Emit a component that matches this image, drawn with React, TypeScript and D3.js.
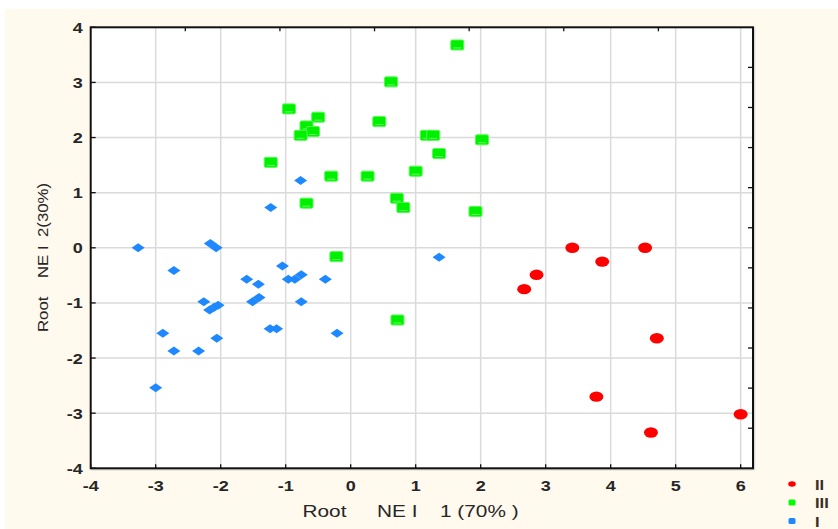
import React from "react";
import * as d3 from "d3";

const groupI: [number, number][] = [
  [-3.27, 0.0], [-2.72, -0.41], [-2.16, 0.08], [-2.07, 0.0], [-1.23, 0.73],
  [-0.77, 1.22], [-1.05, -0.33], [-1.6, -0.57], [-1.42, -0.66], [-0.96, -0.57],
  [-0.86, -0.57], [-0.76, -0.49], [-0.39, -0.57], [-2.26, -0.98], [-2.17, -1.13],
  [-2.1, -1.08], [-2.04, -1.04], [-1.51, -0.98], [-1.41, -0.9], [-0.76, -0.98],
  [-2.89, -1.55], [-2.06, -1.64], [-1.24, -1.47], [-1.14, -1.47], [-0.21, -1.55],
  [-2.72, -1.87], [-2.34, -1.87], [-3.0, -2.54], [1.36, -0.17],
];
const groupIII: [number, number][] = [
  [1.64, 3.68], [0.62, 3.01], [-0.95, 2.52], [-0.5, 2.37], [-0.68, 2.21],
  [-0.58, 2.11], [-0.77, 2.04], [0.44, 2.29], [1.17, 2.04], [1.27, 2.04],
  [2.02, 1.96], [1.36, 1.71], [-1.23, 1.55], [-0.3, 1.3], [0.26, 1.3],
  [1.0, 1.39], [-0.68, 0.81], [0.71, 0.9], [0.81, 0.73], [1.92, 0.66],
  [-0.22, -0.16], [0.72, -1.31],
];
const groupII: [number, number][] = [
  [3.41, 0.0], [4.53, 0.0], [3.87, -0.25], [2.86, -0.49], [2.67, -0.75],
  [4.71, -1.64], [3.78, -2.7], [6.0, -3.02], [4.62, -3.35],
];
const xTicks = [-4, -3, -2, -1, 0, 1, 2, 3, 4, 5, 6];
const yTicks = [-4, -3, -2, -1, 0, 1, 2, 3, 4];
const topTicks = [1, 2, 3, 4, 5, 6];
const rightTicks = [1, 2, 3, 4, 5, 6, 7, 8, 9, 10];
const xTitleParts = ["Root", "NE I", "1 (70% )"];
const yTitleParts = ["Root", "NE I", "2(30%)"];
const legendItems = [
  { label: "II", color: "#FF0000", shape: "circle" },
  { label: "III", color: "#00FF00", shape: "square" },
  { label: "I", color: "#1E88FF", shape: "square" },
];

const L = 90.7, R = 753, T = 27.3, B = 468.3;
const x = d3.scaleLinear().domain([-4, 6.19]).range([L, R]);
const y = d3.scaleLinear().domain([-4, 4]).range([B, T]);
const xTop = d3.scaleLinear().domain([0, 7]).range([L, R]);
const yRight = d3.scaleLinear().domain([0, 11]).range([T, B]);

const font = "'Liberation Sans', Arial, sans-serif";
const textCol = "#262626";
const fmt = (t: number) => (t < 0 ? "-" + Math.abs(t) : String(t));

function SText(props: {
  x: number; y: number; anchor?: string; sx?: number; size: number; weight?: string;
  fill?: string; rotate?: number; children: React.ReactNode;
}) {
  const { x, y, anchor = "start", sx = 1.2, size, weight = "normal", fill = textCol, rotate = 0 } = props;
  return (
    <text
      transform={`translate(${x},${y}) rotate(${rotate}) scale(${sx},1)`}
      textAnchor={anchor}
      fontSize={size}
      fontWeight={weight}
      fill={fill}
      style={{ whiteSpace: "pre" }}
    >
      {props.children}
    </text>
  );
}

export default function App() {
  const diamond = (cx: number, cy: number) =>
    `M${cx - 6.5},${cy} L${cx},${cy - 4.5} L${cx + 6.5},${cy} L${cx},${cy + 4.5} Z`;
  const xTitleX = [302.5, 377, 440];
  const yTitleY = [332, 278, 237];
  return (
    <svg width={838} height={529} style={{ position: "absolute", left: 0, top: 0 }} fontFamily={font}>
      <rect x={0} y={0} width={838} height={529} fill="#ffffff" />
      <rect x={5} y={9} width={833} height={520} fill="#FFF9EE" />
      <rect x={L} y={T} width={R - L} height={B - T} fill="#ffffff" />
      {/* grid */}
      {xTicks.filter((t) => t > -4).map((t) => (
        <line key={"gx" + t} x1={x(t)} x2={x(t)} y1={T} y2={B} stroke="#dadada" strokeWidth={1.5} />
      ))}
      {yTicks.filter((t) => t > -4 && t < 4).map((t) => (
        <line key={"gy" + t} x1={L} x2={R} y1={y(t)} y2={y(t)} stroke="#dadada" strokeWidth={1.5} />
      ))}
      {/* ticks */}
      {xTicks.map((t) => (
        <line key={"tx" + t} x1={x(t)} x2={x(t)} y1={B} y2={B - 4} stroke="#111" strokeWidth={1.3} />
      ))}
      {yTicks.map((t) => (
        <line key={"ty" + t} x1={L} x2={L + 5} y1={y(t)} y2={y(t)} stroke="#111" strokeWidth={1.3} />
      ))}
      {topTicks.map((t) => (
        <line key={"tt" + t} x1={xTop(t)} x2={xTop(t)} y1={T} y2={T + 4} stroke="#111" strokeWidth={1.3} />
      ))}
      {rightTicks.map((t) => (
        <line key={"tr" + t} x1={R} x2={R - 5} y1={yRight(t)} y2={yRight(t)} stroke="#111" strokeWidth={1.3} />
      ))}
      {/* frame */}
      <line x1={R + 1.5} x2={R + 1.5} y1={T} y2={B + 1.5} stroke="#d8d8d8" strokeWidth={1.5} />
      <line x1={L} x2={R + 1.5} y1={B + 1.5} y2={B + 1.5} stroke="#d8d8d8" strokeWidth={1.5} />
      <rect x={L} y={T} width={R - L} height={B - T} fill="none" stroke="#111" strokeWidth={2} />
      {/* tick labels */}
      {xTicks.map((t) => (
        <SText key={"lx" + t} x={x(t)} y={B + 23} anchor="middle" size={15} weight="bold">
          {fmt(t)}
        </SText>
      ))}
      {yTicks.map((t) => (
        <SText key={"ly" + t} x={L - 8} y={y(t) + 5.5} anchor="end" size={15} weight="bold">
          {fmt(t)}
        </SText>
      ))}
      {/* axis titles */}
      {xTitleParts.map((p, i) => (
        <SText key={"xt" + i} x={xTitleX[i]} y={517} size={16} sx={1.3}>
          {p}
        </SText>
      ))}
      {yTitleParts.map((p, i) => (
        <SText key={"yt" + i} x={48} y={yTitleY[i]} size={14} sx={1.2} rotate={-90}>
          {p}
        </SText>
      ))}
      {/* points */}
      {groupI.map(([a, b], i) => (
        <path key={"i" + i} d={diamond(x(a), y(b))} fill="#1E88FF" />
      ))}
      {groupIII.map(([a, b], i) => (
        <g key={"iii" + i}>
          <rect x={x(a) - 6.5} y={y(b) - 5} width={13} height={10} rx={1.5} fill="#00F000" stroke="#4dff4d" strokeWidth={1} />
          <path d={`M${x(a) - 4},${y(b) + 3} L${x(a) + 4},${y(b) + 3}`} fill="none" stroke="#7dff7d" strokeWidth={0.8} />
        </g>
      ))}
      {groupII.map(([a, b], i) => (
        <ellipse key={"ii" + i} cx={x(a)} cy={y(b)} rx={7} ry={5.2} fill="#FF0000" />
      ))}
      {/* legend */}
      {legendItems.map((it, i) => {
        const cy = 484 + i * 18.5;
        return (
          <g key={"lg" + i}>
            {it.shape === "circle" ? (
              <ellipse cx={792} cy={cy} rx={3.8} ry={2.8} fill={it.color} />
            ) : (
              <rect x={788.5} y={cy - 3} width={7} height={6} rx={1.5} fill={it.color} />
            )}
            <SText x={815} y={cy + 5.5} size={15} weight="bold" fill="#3a2e22" sx={1.1}>
              {it.label}
            </SText>
          </g>
        );
      })}
    </svg>
  );
}
